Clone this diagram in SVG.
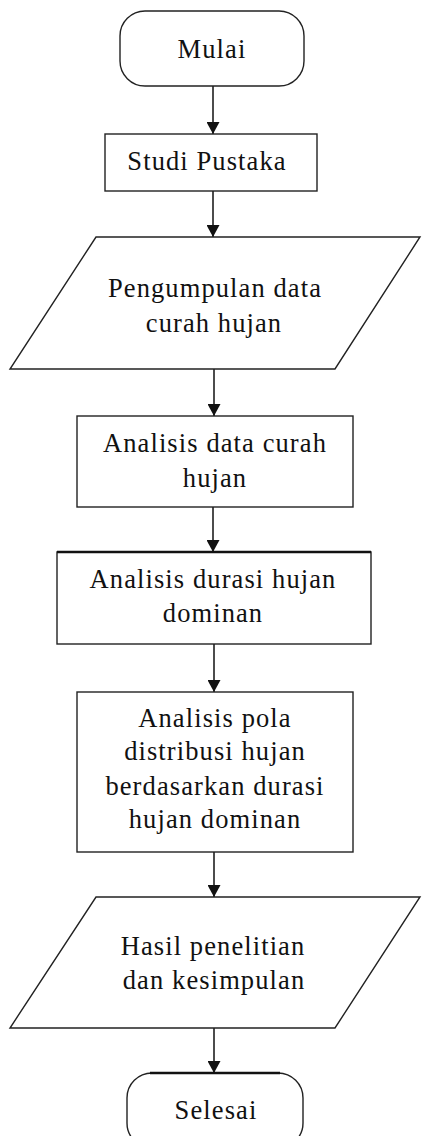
<svg xmlns="http://www.w3.org/2000/svg" width="428" height="1136" viewBox="0 0 428 1136">
<style>
.s{fill:#fff;stroke:#222;stroke-width:1.4}
.t{font-family:"Liberation Serif","Times New Roman",serif;font-size:26.5px;letter-spacing:1.1px;fill:#111;text-anchor:middle}
.c{stroke:#111;stroke-width:1.5;fill:none;marker-end:url(#ah)}
</style>
<defs>
<marker id="ah" markerWidth="13" markerHeight="13" refX="12" refY="6.5" orient="auto" markerUnits="userSpaceOnUse" viewBox="0 0 13 13">
<path d="M0,0 L12,6.5 L0,13 Z" fill="#111"/>
</marker>
</defs>
<rect width="428" height="1136" fill="#fff"/>
<g id="connectors">
<line class="c" x1="213" y1="86" x2="213" y2="134"/>
<line class="c" x1="213" y1="191" x2="213" y2="237"/>
<line class="c" x1="214" y1="369" x2="214" y2="416"/>
<line class="c" x1="213" y1="507" x2="213" y2="552"/>
<line class="c" x1="214" y1="644" x2="214" y2="692"/>
<line class="c" x1="214" y1="852" x2="214" y2="897"/>
<line class="c" x1="214" y1="1028" x2="214" y2="1073"/>
</g>
<g id="mulai">
<rect class="s" x="120" y="11" width="184" height="75" rx="25" ry="25"/>
<text class="t" x="212" y="58">Mulai</text>
</g>
<g id="studi-pustaka">
<rect class="s" x="105" y="134" width="212" height="57"/>
<text class="t" x="207" y="170">Studi Pustaka</text>
</g>
<g id="pengumpulan">
<polygon class="s" points="96,237 420,237 335,369 10,369"/>
<text class="t" x="215" y="297">Pengumpulan data</text>
<text class="t" x="214" y="332">curah hujan</text>
</g>
<g id="analisis-data">
<rect class="s" x="77" y="416" width="276" height="91"/>
<text class="t" x="215" y="452">Analisis data curah</text>
<text class="t" x="215" y="487">hujan</text>
</g>
<g id="analisis-durasi">
<rect class="s" x="57" y="552" width="314" height="92"/>
<line x1="57" y1="552" x2="371" y2="552" stroke="#111" stroke-width="2.4"/>
<text class="t" x="213" y="588">Analisis durasi hujan</text>
<text class="t" x="213" y="622">dominan</text>
</g>
<g id="analisis-pola">
<rect class="s" x="77" y="692" width="276" height="160"/>
<text class="t" x="215" y="727">Analisis pola</text>
<text class="t" x="215" y="760">distribusi hujan</text>
<text class="t" x="215" y="795">berdasarkan durasi</text>
<text class="t" x="215" y="828">hujan dominan</text>
</g>
<g id="hasil">
<polygon class="s" points="96,897 420,897 335,1028 10,1028"/>
<text class="t" x="213" y="955">Hasil penelitian</text>
<text class="t" x="214" y="989">dan kesimpulan</text>
</g>
<g id="selesai">
<rect class="s" x="127" y="1073" width="176" height="75" rx="25" ry="25"/>
<line x1="150" y1="1073" x2="280" y2="1073" stroke="#111" stroke-width="2.4"/>
<text class="t" x="216" y="1119">Selesai</text>
</g>
</svg>
